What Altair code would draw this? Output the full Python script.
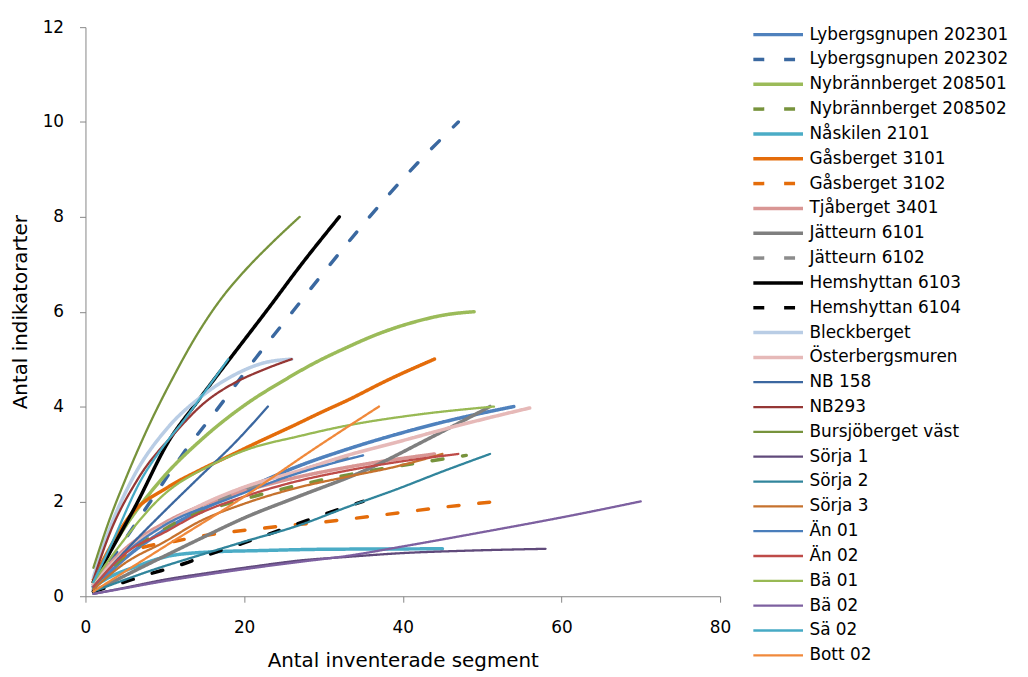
import altair as alt
import pandas as pd

FONT = "DejaVu Sans"

names = [
    "Lybergsgnupen 202301", "Lybergsgnupen 202302", "Nybrännberget 208501",
    "Nybrännberget 208502", "Nåskilen 2101", "Gåsberget 3101", "Gåsberget 3102",
    "Tjåberget 3401", "Jätteurn 6101", "Jätteurn 6102", "Hemshyttan 6103",
    "Hemshyttan 6104", "Bleckberget", "Österbergsmuren", "NB 158", "NB293",
    "Bursjöberget väst", "Sörja 1", "Sörja 2", "Sörja 3", "Än 01", "Än 02",
    "Bä 01", "Bä 02", "Sä 02", "Bott 02",
]
colors = [
    "#4F81BD", "#3A68A0", "#9BBB59", "#77933C", "#4BACC6", "#E46C0A", "#E46C0A",
    "#D99694", "#7F7F7F", "#8C8C8C", "#000000", "#000000", "#B9CDE5", "#E6B9B8",
    "#3B67A0", "#953735", "#77933C", "#604A7B", "#31859C", "#C6722E", "#4A7EBB",
    "#BE4B48", "#98B954", "#7D60A0", "#46AAC5", "#F0893B",
]
dashed = [False, True, False, True, False, False, True, False, False, True, False, True,
          False, False, False, False, False, False, False, False, False, False, False,
          False, False, False]
thick = [True] * 14 + [False] * 12

# x = number of inventoried segments, y = number of indicator species
s_x = {
    "Lybergsgnupen 202301": [1, 5, 10, 18.4, 26.8, 33, 40, 47, 54],
    "Lybergsgnupen 202302": [1, 4, 8, 12.5, 16.6, 21.6, 26.2, 30, 35.2, 41, 47],
    "Nybrännberget 208501": [1, 4, 9.6, 14.6, 20.5, 25, 28.9, 33, 37.2, 41.4, 45.6, 49],
    "Nybrännberget 208502": [1, 5, 10.4, 13.4, 20.9, 28.4, 36, 43.4, 48],
    "Nåskilen 2101": [1, 3, 6.3, 10.9, 16.6, 21.3, 30, 45],
    "Gåsberget 3101": [1, 3, 5.4, 10.4, 14.3, 18.4, 22, 26, 30, 33, 38, 44],
    "Gåsberget 3102": [1, 3, 6, 11.6, 15.1, 22.6, 30.2, 37.7, 45.2, 52],
    "Tjåberget 3401": [1, 5, 10, 16, 24, 34, 44],
    "Jätteurn 6101": [1, 10, 14.3, 20, 26.8, 35.2, 43, 51],
    "Jätteurn 6102": [1, 5, 10, 18, 26, 35],
    "Hemshyttan 6103": [1, 3, 6.3, 10.6, 14, 18.4, 23.2, 27, 32],
    "Hemshyttan 6104": [1, 4, 7.5, 12.5, 15.9, 19.7, 23.3, 26.8, 30.3, 35],
    "Bleckberget": [1, 3, 5.9, 10.4, 14.6, 18.8, 22.5, 26],
    "Österbergsmuren": [1, 5, 10, 14.3, 20, 26.8, 33, 39.3, 47, 56],
    "NB 158": [1, 5, 10, 14.1, 19.2, 23],
    "NB293": [1, 3, 6.6, 11.3, 15, 18.8, 22.5, 26],
    "Bursjöberget väst": [1, 3, 5, 8, 11, 14, 17, 20, 23.5, 27],
    "Sörja 1": [1, 5, 10, 15, 21.3, 26.8, 33, 40, 48, 58],
    "Sörja 2": [1, 5, 8.4, 14.3, 20, 27, 33, 39.3, 45, 51],
    "Sörja 3": [1, 5, 10, 14.3, 20, 27, 33, 39.3, 45],
    "Än 01": [1, 5, 10, 18, 26, 35],
    "Än 02": [1, 5, 10, 14.3, 20, 26.8, 33, 39.3, 47],
    "Bä 01": [1, 4, 9.6, 16, 20.5, 26.8, 33, 41.4, 51.5],
    "Bä 02": [1, 5, 10, 15, 21.3, 26.8, 33, 40, 50, 61.8, 70],
    "Sä 02": [1, 3, 7, 10, 12.5, 15, 18],
    "Bott 02": [1, 10, 20, 28.4, 37],
}
s_y = {
    "Lybergsgnupen 202301": [0.15, 0.8, 1.4, 2.12, 2.74, 3.1, 3.45, 3.75, 4.0],
    "Lybergsgnupen 202302": [0.2, 0.95, 1.95, 3.05, 3.94, 5.05, 6.02, 6.82, 7.88, 8.98, 10.0],
    "Nybrännberget 208501": [0.3, 1.2, 2.47, 3.3, 4.08, 4.55, 4.92, 5.25, 5.55, 5.78, 5.94, 6.0],
    "Nybrännberget 208502": [0.2, 0.85, 1.47, 1.7, 2.09, 2.4, 2.65, 2.85, 2.97],
    "Nåskilen 2101": [0.2, 0.4, 0.62, 0.86, 0.94, 0.96, 0.99, 1.0],
    "Gåsberget 3101": [0.35, 1.0, 1.65, 2.3, 2.65, 2.98, 3.27, 3.58, 3.9, 4.13, 4.55, 5.0],
    "Gåsberget 3102": [0.3, 0.65, 0.95, 1.17, 1.28, 1.44, 1.57, 1.72, 1.88, 2.0],
    "Tjåberget 3401": [0.3, 1.0, 1.55, 2.0, 2.4, 2.75, 3.0],
    "Jätteurn 6101": [0.1, 0.85, 1.2, 1.65, 2.1, 2.65, 3.3, 4.0],
    "Jätteurn 6102": [0.25, 0.95, 1.5, 2.1, 2.6, 3.0],
    "Hemshyttan 6103": [0.3, 0.9, 1.9, 3.3, 4.08, 5.05, 6.1, 6.95, 8.0],
    "Hemshyttan 6104": [0.1, 0.25, 0.44, 0.69, 0.9, 1.11, 1.32, 1.53, 1.74, 2.0],
    "Bleckberget": [0.4, 1.4, 2.47, 3.56, 4.21, 4.67, 4.92, 5.0],
    "Österbergsmuren": [0.25, 0.95, 1.5, 1.9, 2.3, 2.64, 2.97, 3.25, 3.6, 3.97],
    "NB 158": [0.2, 0.95, 1.8, 2.47, 3.3, 4.0],
    "NB293": [0.35, 1.3, 2.47, 3.45, 4.08, 4.5, 4.78, 5.0],
    "Bursjöberget väst": [0.6, 1.6, 2.45, 3.6, 4.6, 5.5, 6.25, 6.85, 7.45, 8.0],
    "Sörja 1": [0.05, 0.18, 0.35, 0.48, 0.63, 0.75, 0.83, 0.91, 0.96, 1.0],
    "Sörja 2": [0.1, 0.35, 0.55, 0.86, 1.15, 1.5, 1.88, 2.26, 2.63, 3.0],
    "Sörja 3": [0.15, 0.7, 1.15, 1.57, 1.95, 2.3, 2.52, 2.74, 3.0],
    "Än 01": [0.2, 0.9, 1.5, 2.05, 2.55, 2.97],
    "Än 02": [0.2, 0.9, 1.35, 1.74, 2.1, 2.43, 2.65, 2.83, 3.0],
    "Bä 01": [0.3, 1.0, 2.1, 2.78, 3.1, 3.37, 3.6, 3.82, 4.0],
    "Bä 02": [0.05, 0.17, 0.32, 0.45, 0.6, 0.72, 0.85, 1.05, 1.35, 1.72, 2.0],
    "Sä 02": [0.3, 1.0, 2.45, 3.2, 3.73, 4.3, 5.0],
    "Bott 02": [0.1, 1.05, 2.1, 3.06, 4.0],
}

rows = []
for i, n in enumerate(names):
    for k, (xv, yv) in enumerate(zip(s_x[n], s_y[n])):
        rows.append({"series": n, "x": xv, "y": yv, "idx": i, "k": k})
df = pd.DataFrame(rows)

dash_range = [[11, 20] if d else [1, 0] for d in dashed]
width_range = [3.5 if t else 2.3 for t in thick]

legend = alt.Legend(title=None)

chart = alt.Chart(df).mark_line(
    interpolate="monotone", strokeCap="round", strokeJoin="round"
).encode(
    x=alt.X("x:Q", scale=alt.Scale(domain=[0, 80], nice=False),
            axis=alt.Axis(values=[0, 20, 40, 60, 80], title="Antal inventerade segment")),
    y=alt.Y("y:Q", scale=alt.Scale(domain=[0, 12], nice=False),
            axis=alt.Axis(values=[0, 2, 4, 6, 8, 10, 12], title="Antal indikatorarter")),
    color=alt.Color("series:N", scale=alt.Scale(domain=names, range=colors), legend=legend),
    strokeDash=alt.StrokeDash("series:N", scale=alt.Scale(domain=names, range=dash_range), legend=legend),
    strokeWidth=alt.StrokeWidth("series:N", scale=alt.Scale(type="ordinal", domain=names, range=width_range), legend=legend),
    order=alt.Order("k:Q"),
).properties(
    width=639, height=573,
    autosize=alt.AutoSizeParams(type="none"),
    padding={"left": 78, "top": 17, "right": 302, "bottom": 77},
).configure_view(stroke=None).configure_axis(
    grid=False, domainColor="#868686", tickColor="#868686", tickSize=6,
    labelFont=FONT, labelFontSize=17, labelColor="#000000",
    titleFont=FONT, titleFontSize=20, titleFontWeight="normal", titleColor="#000000",
).configure_axisX(labelPadding=18, titlePadding=15, labelFlush=False).configure_axisY(
    labelPadding=16, titlePadding=12
).configure_legend(
    orient="none", legendX=689, legendY=-1, symbolType="M-5,0L5,0", symbolSize=100,
    labelFont=FONT, labelFontSize=17, labelColor="#000000", labelOffset=23,
    labelLimit=400, rowPadding=7, padding=0,
)

chart.save("out.html", embed_options={"renderer": "svg", "actions": False})
